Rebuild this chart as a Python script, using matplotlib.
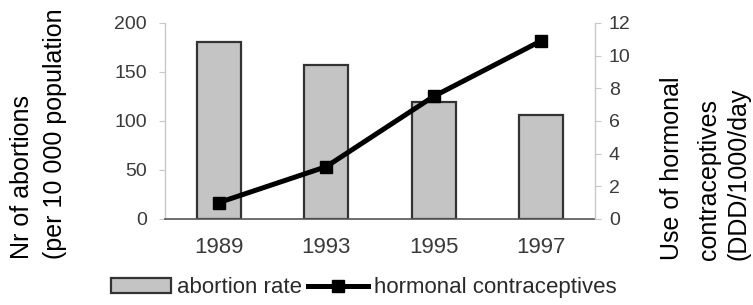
import matplotlib

matplotlib.use("Agg")

import matplotlib.pyplot as plt
import numpy as np

years = ["1989", "1993", "1995", "1997"]
abortion_rate = [181, 157, 119, 106]
contraceptives = [1.0, 3.2, 7.5, 10.9]

left_ticks = [0, 50, 100, 150, 200]
right_ticks = [0, 2, 4, 6, 8, 10, 12]

LABEL_FONT = ["Liberation Sans", "DejaVu Sans"]
TICK_FONT = ["Liberation Sans", "DejaVu Sans"]
TICK_COLOR = "#3a3a3a"


def main() -> None:
    fig = plt.figure(figsize=(7.53, 3.05), dpi=100)
    ax = fig.add_axes([0.219, 0.282, 0.571, 0.643])
    x = np.arange(len(years))

    bars = ax.bar(x, abortion_rate, width=0.41, color="#c4c4c4",
                  edgecolor="#333333", linewidth=1.6, label="abortion rate", zorder=2)
    ax.set_xlim(-0.5, len(years) - 0.5)
    ax.set_ylim(0, 200)
    ax.set_yticks(left_ticks)
    ax.set_xticks(x)
    ax.set_xticklabels(years, fontsize=16, family=TICK_FONT, color=TICK_COLOR)

    for side in ("top", "right"):
        ax.spines[side].set_visible(False)
    ax.spines["left"].set_color("#c8c8c8")
    ax.spines["left"].set_linewidth(1.0)
    ax.spines["bottom"].set_color("#555555")
    ax.spines["bottom"].set_linewidth(1.2)
    ax.tick_params(axis="y", length=4, color="#c8c8c8", pad=9, labelsize=14,
                   labelcolor=TICK_COLOR)
    ax.tick_params(axis="x", length=0, pad=13)
    for lab in ax.get_yticklabels():
        lab.set_family(TICK_FONT)

    ax2 = ax.twinx()
    line, = ax2.plot(x, contraceptives, color="black", linewidth=3.6, marker="s",
                     markersize=9, label="hormonal contraceptives", zorder=3)
    ax2.set_ylim(0, 12)
    ax2.set_yticks(right_ticks)
    for side in ("top", "left", "bottom"):
        ax2.spines[side].set_visible(False)
    ax2.spines["right"].set_color("#c8c8c8")
    ax2.spines["right"].set_linewidth(1.0)
    ax2.tick_params(axis="y", length=4, color="#c8c8c8", pad=6, labelsize=14,
                    labelcolor=TICK_COLOR)
    for lab in ax2.get_yticklabels():
        lab.set_family(TICK_FONT)

    # axis titles, each line placed on its own
    left_lines = [("Nr of abortions", 0.029), ("(per 10 000 population", 0.073)]
    for text, xpos in left_lines:
        fig.text(xpos, 0.152, text, rotation=90, ha="center", va="bottom",
                 fontsize=18, family=LABEL_FONT, color="black")
    right_lines = [("Use of hormonal", 0.893), ("contraceptives", 0.942),
                   ("(DDD/1000/day", 0.981)]
    for text, xpos in right_lines:
        fig.text(xpos, 0.148, text, rotation=90, ha="center", va="bottom",
                 fontsize=18, family=LABEL_FONT, color="black")

    leg = fig.legend([bars, line], ["abortion rate", "hormonal contraceptives"],
                     loc="center", bbox_to_anchor=(0.483, 0.056), ncol=2,
                     frameon=False, handlelength=2.7, handletextpad=0.25,
                     columnspacing=0.3, borderpad=0.0,
                     prop={"family": TICK_FONT, "size": 16})
    for t in leg.get_texts():
        t.set_color("#2a2a2a")

    fig.savefig("out.png", dpi=100)
    plt.close(fig)


if __name__ == "__main__":
    main()
